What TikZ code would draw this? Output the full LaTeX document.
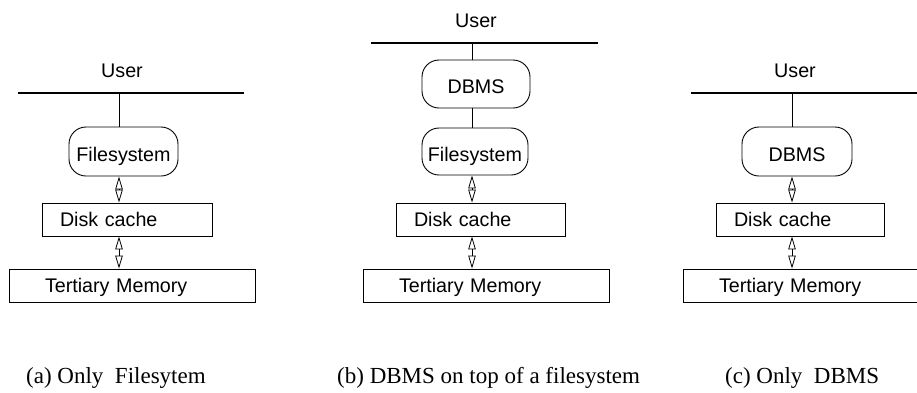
\documentclass[tikz,border=0pt]{standalone}
\usepackage{fontspec}
\setmainfont{Liberation Serif}
\newfontfamily\arialf{Liberation Sans}
\usetikzlibrary{arrows.meta}
\tikzset{
  sf/.style={font=\arialf\fontsize{19.7}{23}\selectfont},
  userlbl/.style={sf, inner sep=0pt, anchor=base},
  userline/.style={line width=1.5pt},
  conn/.style={line width=0.9pt},
  rbox/.style={sf, draw, line width=0.9pt, rounded corners=17pt, inner sep=0pt,
    text height=19.1pt, text depth=0pt},
  sbox/.style={sf, draw, line width=0.9pt, inner sep=0pt, align=left,
    text height=14.1pt, text depth=0pt, minimum height=33pt},
  dbl/.style={line width=0.8pt,
    {Triangle[open,length=13pt,width=7.5pt]}-{Triangle[open,length=13pt,width=7.5pt]}},
  caption/.style={font=\fontsize{23}{27}\selectfont, inner sep=0pt, anchor=base west}
}
\begin{document}
\begin{tikzpicture}[x=1pt,y=-1pt]
\useasboundingbox (0,0) rectangle (917,392);

% ---------- panel (a) ----------
\begin{scope}[shift={(119,0)}]
  \node[userlbl] (userA) at (3,77) {User};
  \coordinate (ulA) at (-101,93);
  \coordinate (urA) at (125,93);
  \coordinate (jA) at (0,93);
  \draw[userline] (ulA) -- (urA);
  \node[rbox, minimum width=109pt, minimum height=49pt] (fsA) at (4.5,151.5) {Filesystem};
  \node[sbox, inner xsep=18pt, text width=134pt] (dcA) at (8,219.5) {Disk cache};
  \node[sbox, inner xsep=36pt, text width=174pt] (tmA) at (13,285.5) {Tertiary Memory};
  \draw[conn] (jA) -- (jA |- fsA.north);
  \draw[dbl] (jA |- fsA.south) -- (jA |- dcA.north);
  \draw[dbl] (jA |- dcA.south) -- (jA |- tmA.north);
\end{scope}

% ---------- panel (b) ----------
\begin{scope}[shift={(472,0)}]
  \node[userlbl] (userB) at (4,27) {User};
  \coordinate (ulB) at (-101,43);
  \coordinate (urB) at (126,43);
  \coordinate (jB) at (0,43);
  \draw[userline] (ulB) -- (urB);
  \node[rbox, minimum width=108pt, minimum height=48pt] (dbB) at (4,84) {DBMS};
  \node[rbox, minimum width=106pt, minimum height=47pt] (fsB) at (3,151.5) {Filesystem};
  \node[sbox, inner xsep=18pt, text width=133pt] (dcB) at (8.5,219.5) {Disk cache};
  \node[sbox, inner xsep=36pt, text width=174pt] (tmB) at (14,285.5) {Tertiary Memory};
  \draw[conn] (jB) -- (jB |- dbB.north);
  \draw[conn] (jB |- dbB.south) -- (jB |- fsB.north);
  \draw[dbl] (jB |- fsB.south) -- (jB |- dcB.north);
  \draw[dbl] (jB |- dcB.south) -- (jB |- tmB.north);
\end{scope}

% ---------- panel (c) ----------
\begin{scope}[shift={(792,0)}]
  \node[userlbl] (userC) at (3,77) {User};
  \coordinate (ulC) at (-101,93);
  \coordinate (urC) at (126,93);
  \coordinate (jC) at (0,93);
  \draw[userline] (ulC) -- (urC);
  \node[rbox, minimum width=110pt, minimum height=49pt] (dbC) at (5,151.5) {DBMS};
  \node[sbox, inner xsep=18pt, text width=132pt] (dcC) at (8,219.5) {Disk cache};
  \node[sbox, inner xsep=36pt, text width=174pt] (tmC) at (14,285.5) {Tertiary Memory};
  \draw[conn] (jC) -- (jC |- dbC.north);
  \draw[dbl] (jC |- dbC.south) -- (jC |- dcC.north);
  \draw[dbl] (jC |- dcC.south) -- (jC |- tmC.north);
\end{scope}

% ---------- captions ----------
\node[caption] (capA) at (26,383) {(a) Only\ \ Filesytem};
\node[caption] (capB) at (337,383) {(b) DBMS on top of a filesystem};
\node[caption] (capC) at (725,383) {(c) Only\ \ DBMS};
\end{tikzpicture}
\end{document}
